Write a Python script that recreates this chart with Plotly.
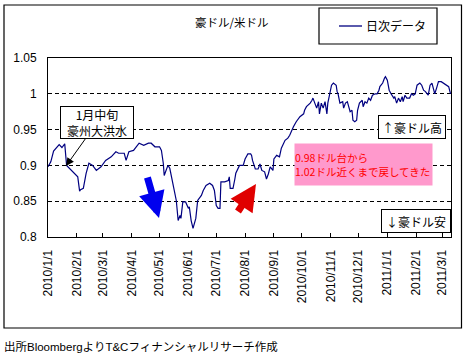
import plotly.graph_objects as go

# ---- data ----
dates = [
    "2010-01-01", "2010-01-04", "2010-01-07", "2010-01-13", "2010-01-16", "2010-01-19",
    "2010-01-21", "2010-01-25", "2010-01-28", "2010-02-02", "2010-02-04", "2010-02-05",
    "2010-02-08", "2010-02-11", "2010-02-14", "2010-02-18", "2010-02-22", "2010-02-27",
    "2010-03-04", "2010-03-10", "2010-03-15", "2010-03-18", "2010-03-24", "2010-03-26",
    "2010-03-29", "2010-04-03", "2010-04-09", "2010-04-14", "2010-04-19", "2010-04-22",
    "2010-04-26", "2010-05-01", "2010-05-03", "2010-05-05", "2010-05-06", "2010-05-10",
    "2010-05-12", "2010-05-15", "2010-05-19", "2010-05-21", "2010-05-23", "2010-05-24",
    "2010-05-26", "2010-05-29", "2010-06-01", "2010-06-02", "2010-06-04", "2010-06-06",
    "2010-06-08", "2010-06-09", "2010-06-11", "2010-06-15", "2010-06-17", "2010-06-20",
    "2010-06-24", "2010-06-27", "2010-06-29", "2010-07-01", "2010-07-03", "2010-07-05",
    "2010-07-06", "2010-07-10", "2010-07-14", "2010-07-15", "2010-07-16", "2010-07-19",
    "2010-07-21", "2010-07-22", "2010-07-26", "2010-07-30", "2010-08-01", "2010-08-04",
    "2010-08-07", "2010-08-08", "2010-08-09", "2010-08-12", "2010-08-15", "2010-08-17",
    "2010-08-19", "2010-08-22", "2010-08-24", "2010-08-26", "2010-08-28", "2010-08-31",
    "2010-09-01", "2010-09-04", "2010-09-07", "2010-09-09", "2010-09-13", "2010-09-16",
    "2010-09-18", "2010-09-20", "2010-09-22", "2010-09-25", "2010-09-29", "2010-10-03",
    "2010-10-04", "2010-10-06", "2010-10-10", "2010-10-12", "2010-10-13", "2010-10-15",
    "2010-10-17", "2010-10-19", "2010-10-20", "2010-10-22", "2010-10-24", "2010-10-26",
    "2010-10-28", "2010-10-29", "2010-10-31", "2010-11-02", "2010-11-04", "2010-11-07",
    "2010-11-08", "2010-11-09", "2010-11-11", "2010-11-14", "2010-11-15", "2010-11-17",
    "2010-11-19", "2010-11-22", "2010-11-24", "2010-11-25", "2010-11-27", "2010-11-29",
    "2010-11-30", "2010-12-02", "2010-12-05", "2010-12-06", "2010-12-08", "2010-12-10",
    "2010-12-12", "2010-12-14", "2010-12-16", "2010-12-19", "2010-12-21", "2010-12-23",
    "2010-12-24", "2010-12-27", "2010-12-29", "2010-12-30", "2011-01-01", "2011-01-03",
    "2011-01-05", "2011-01-08", "2011-01-09", "2011-01-11", "2011-01-13", "2011-01-15",
    "2011-01-17", "2011-01-18", "2011-01-20", "2011-01-22", "2011-01-25", "2011-01-27",
    "2011-01-29", "2011-01-31", "2011-02-02", "2011-02-05", "2011-02-07", "2011-02-09",
    "2011-02-11", "2011-02-14", "2011-02-16", "2011-02-18", "2011-02-20", "2011-02-21",
    "2011-02-23", "2011-02-25", "2011-02-28", "2011-03-02", "2011-03-05", "2011-03-08",
    "2011-03-10",
]
aud_usd = [
    0.898, 0.905, 0.920, 0.929, 0.925, 0.930,
    0.900, 0.895, 0.891, 0.884, 0.864, 0.866,
    0.868, 0.889, 0.903, 0.900, 0.893, 0.898,
    0.907, 0.912, 0.919, 0.917, 0.917, 0.907,
    0.919, 0.921, 0.931, 0.928, 0.931, 0.931,
    0.926, 0.926, 0.921, 0.903, 0.886, 0.900,
    0.896, 0.877, 0.851, 0.823, 0.830, 0.826,
    0.849, 0.849, 0.840, 0.842, 0.823, 0.812,
    0.823, 0.826, 0.851, 0.858, 0.865, 0.872,
    0.875, 0.872, 0.865, 0.844, 0.840, 0.840,
    0.877, 0.877, 0.879, 0.884, 0.868, 0.868,
    0.881, 0.889, 0.900, 0.900, 0.909, 0.916,
    0.916, 0.914, 0.907, 0.895, 0.895, 0.902,
    0.893, 0.891, 0.881, 0.888, 0.898, 0.893,
    0.909, 0.914, 0.912, 0.924, 0.935, 0.938,
    0.942, 0.949, 0.954, 0.961, 0.968, 0.972,
    0.977, 0.982, 0.987, 0.991, 0.994, 0.987,
    0.980, 0.989, 0.972, 0.987, 0.980, 0.989,
    0.972, 0.987, 1.000, 1.012, 1.015, 1.012,
    1.003, 1.000, 0.987, 0.989, 0.980, 0.987,
    0.989, 0.975, 0.977, 0.963, 0.961, 0.963,
    0.977, 0.987, 0.991, 0.982, 0.989, 0.987,
    0.994, 0.991, 0.998, 1.000, 1.000, 1.005,
    1.010, 1.015, 1.022, 1.024, 1.019, 1.005,
    1.000, 0.994, 0.996, 0.987, 0.994, 0.989,
    0.996, 0.989, 0.998, 0.994, 0.994, 1.000,
    0.998, 1.000, 1.012, 1.015, 1.012, 1.005,
    1.003, 0.998, 1.012, 1.015, 1.005, 1.000,
    1.008, 1.017, 1.017, 1.015, 1.012, 1.010,
    1.000,
]

x_tick_vals = [
    "2010-01-01", "2010-02-01", "2010-03-01", "2010-04-01", "2010-05-01",
    "2010-06-01", "2010-07-01", "2010-08-01", "2010-09-01", "2010-10-01",
    "2010-11-01", "2010-12-01", "2011-01-01", "2011-02-01", "2011-03-01",
]
x_tick_text = [
    "2010/1/1", "2010/2/1", "2010/3/1", "2010/4/1", "2010/5/1",
    "2010/6/1", "2010/7/1", "2010/8/1", "2010/9/1", "2010/10/1",
    "2010/11/1", "2010/12/1", "2011/1/1", "2011/2/1", "2011/3/1",
]
y_tick_vals = [0.8, 0.85, 0.9, 0.95, 1.0, 1.05]
y_tick_text = ["0.8", "0.85", "0.9", "0.95", "1", "1.05"]

series_name = "日次データ"
title_text = "豪ドル/米ドル"
source_text = "出所BloombergよりT&Cフィナンシャルリサーチ作成"

FONT = "Liberation Sans, Arial, Noto Sans CJK JP, sans-serif"
JFONT = "Noto Sans CJK JP, sans-serif"
W, H = 468, 357
L, R, T, B = 48, 17, 58, 120
PW, PH = W - L - R, H - T - B


def px(x):
    return (x - L) / PW


def py(y):
    return (H - B - y) / PH


fig = go.Figure()
fig.add_trace(go.Scatter(
    x=dates, y=aud_usd, mode="lines", name=series_name,
    line=dict(color="#000080", width=1.2), showlegend=False,
))

shapes = [
    # outer chart border
    dict(type="rect", xref="paper", yref="paper",
         x0=px(4), x1=px(461.5), y0=py(328), y1=py(5),
         line=dict(color="black", width=1.2), layer="below"),
    # legend box
    dict(type="rect", xref="paper", yref="paper",
         x0=px(319), x1=px(437), y0=py(44), y1=py(8),
         line=dict(color="black", width=1.2), fillcolor="white"),
    dict(type="line", xref="paper", yref="paper",
         x0=px(339), x1=px(362), y0=py(26), y1=py(26),
         line=dict(color="#000080", width=1.3)),
]

C = dict(xanchor="center", yanchor="middle")
annotations = [
    dict(text=title_text, xref="paper", yref="paper", x=px(232), y=py(22),
         showarrow=False, font=dict(family=JFONT, size=11.5, color="black"), **C),
    dict(text=series_name, xref="paper", yref="paper", x=px(364), y=py(26),
         xanchor="left", yanchor="middle", showarrow=False,
         font=dict(family=JFONT, size=12, color="black")),
    dict(text=source_text, xref="paper", yref="paper", x=px(2), y=py(346),
         xanchor="left", yanchor="middle", showarrow=False,
         font=dict(size=11.5, color="black")),
    # flood callout
    dict(text="1月中旬<br>豪州大洪水", xref="paper", yref="paper",
         x=px(66), y=py(166), ax=31, ay=-43.5, showarrow=True,
         arrowhead=2, arrowsize=1.6, arrowwidth=1, arrowcolor="black",
         bgcolor="white", bordercolor="black", borderwidth=1, borderpad=0,
         width=72, height=31, font=dict(family=JFONT, size=12, color="black"), **C),
    # high / low boxes
    dict(text="↑豪ドル高", xref="paper", yref="paper", x=px(412), y=py(127),
         showarrow=False, bgcolor="white", bordercolor="black", borderwidth=1,
         borderpad=0, width=66, height=22,
         font=dict(family=JFONT, size=12, color="black"), **C),
    dict(text="↓豪ドル安", xref="paper", yref="paper", x=px(416), y=py(221),
         showarrow=False, bgcolor="white", bordercolor="black", borderwidth=1,
         borderpad=0, width=68, height=22,
         font=dict(family=JFONT, size=12, color="black"), **C),
    # pink note
    dict(text="0.98ドル台から<br>1.02ドル近くまで戻してきた", xref="paper", yref="paper",
         x=px(363.5), y=py(164.5), showarrow=False, align="left",
         bgcolor="#FF99CC", borderpad=0, width=137, height=41,
         font=dict(family=JFONT, size=10.5, color="#FF0000"), **C),
    # blue down arrow
    dict(text="", xref="paper", yref="paper", x=px(159), y=py(218),
         ax=-12, ay=-42, showarrow=True, arrowhead=2, arrowsize=0.75,
         arrowwidth=7, arrowcolor="#0000EE"),
    # red up arrow
    dict(text="", xref="paper", yref="paper", x=px(256), y=py(184),
         ax=-19, ay=29, showarrow=True, arrowhead=2, arrowsize=0.75,
         arrowwidth=7, arrowcolor="#E00000"),
]

fig.update_layout(
    width=W, height=H,
    margin=dict(l=L, r=R, t=T, b=B),
    paper_bgcolor="white", plot_bgcolor="white",
    font=dict(family=FONT, size=12, color="black"),
    shapes=shapes, annotations=annotations,
    showlegend=False,
)
fig.update_xaxes(
    type="date", range=["2010-01-01", "2011-03-10 12:00"],
    tickvals=x_tick_vals, ticktext=x_tick_text, tickangle=-90,
    ticks="inside", ticklen=4, tickcolor="black", ticklabelstandoff=7,
    showgrid=False, showline=True, linecolor="black", linewidth=1, mirror=True,
    tickfont=dict(size=12), zeroline=False, automargin=False,
)
fig.update_yaxes(
    range=[0.8, 1.05], tickvals=y_tick_vals, ticktext=y_tick_text,
    showgrid=True, gridcolor="black", gridwidth=1, griddash="4px,3px",
    showline=True, linecolor="black", linewidth=1, mirror=True,
    ticks="", ticklabelstandoff=8, tickfont=dict(size=12), zeroline=False,
    automargin=False,
)

fig.write_html(
    "out.html",
    config={"displayModeBar": False},
    post_script="document.body.style.margin='0';document.body.style.overflow='hidden';",
)
